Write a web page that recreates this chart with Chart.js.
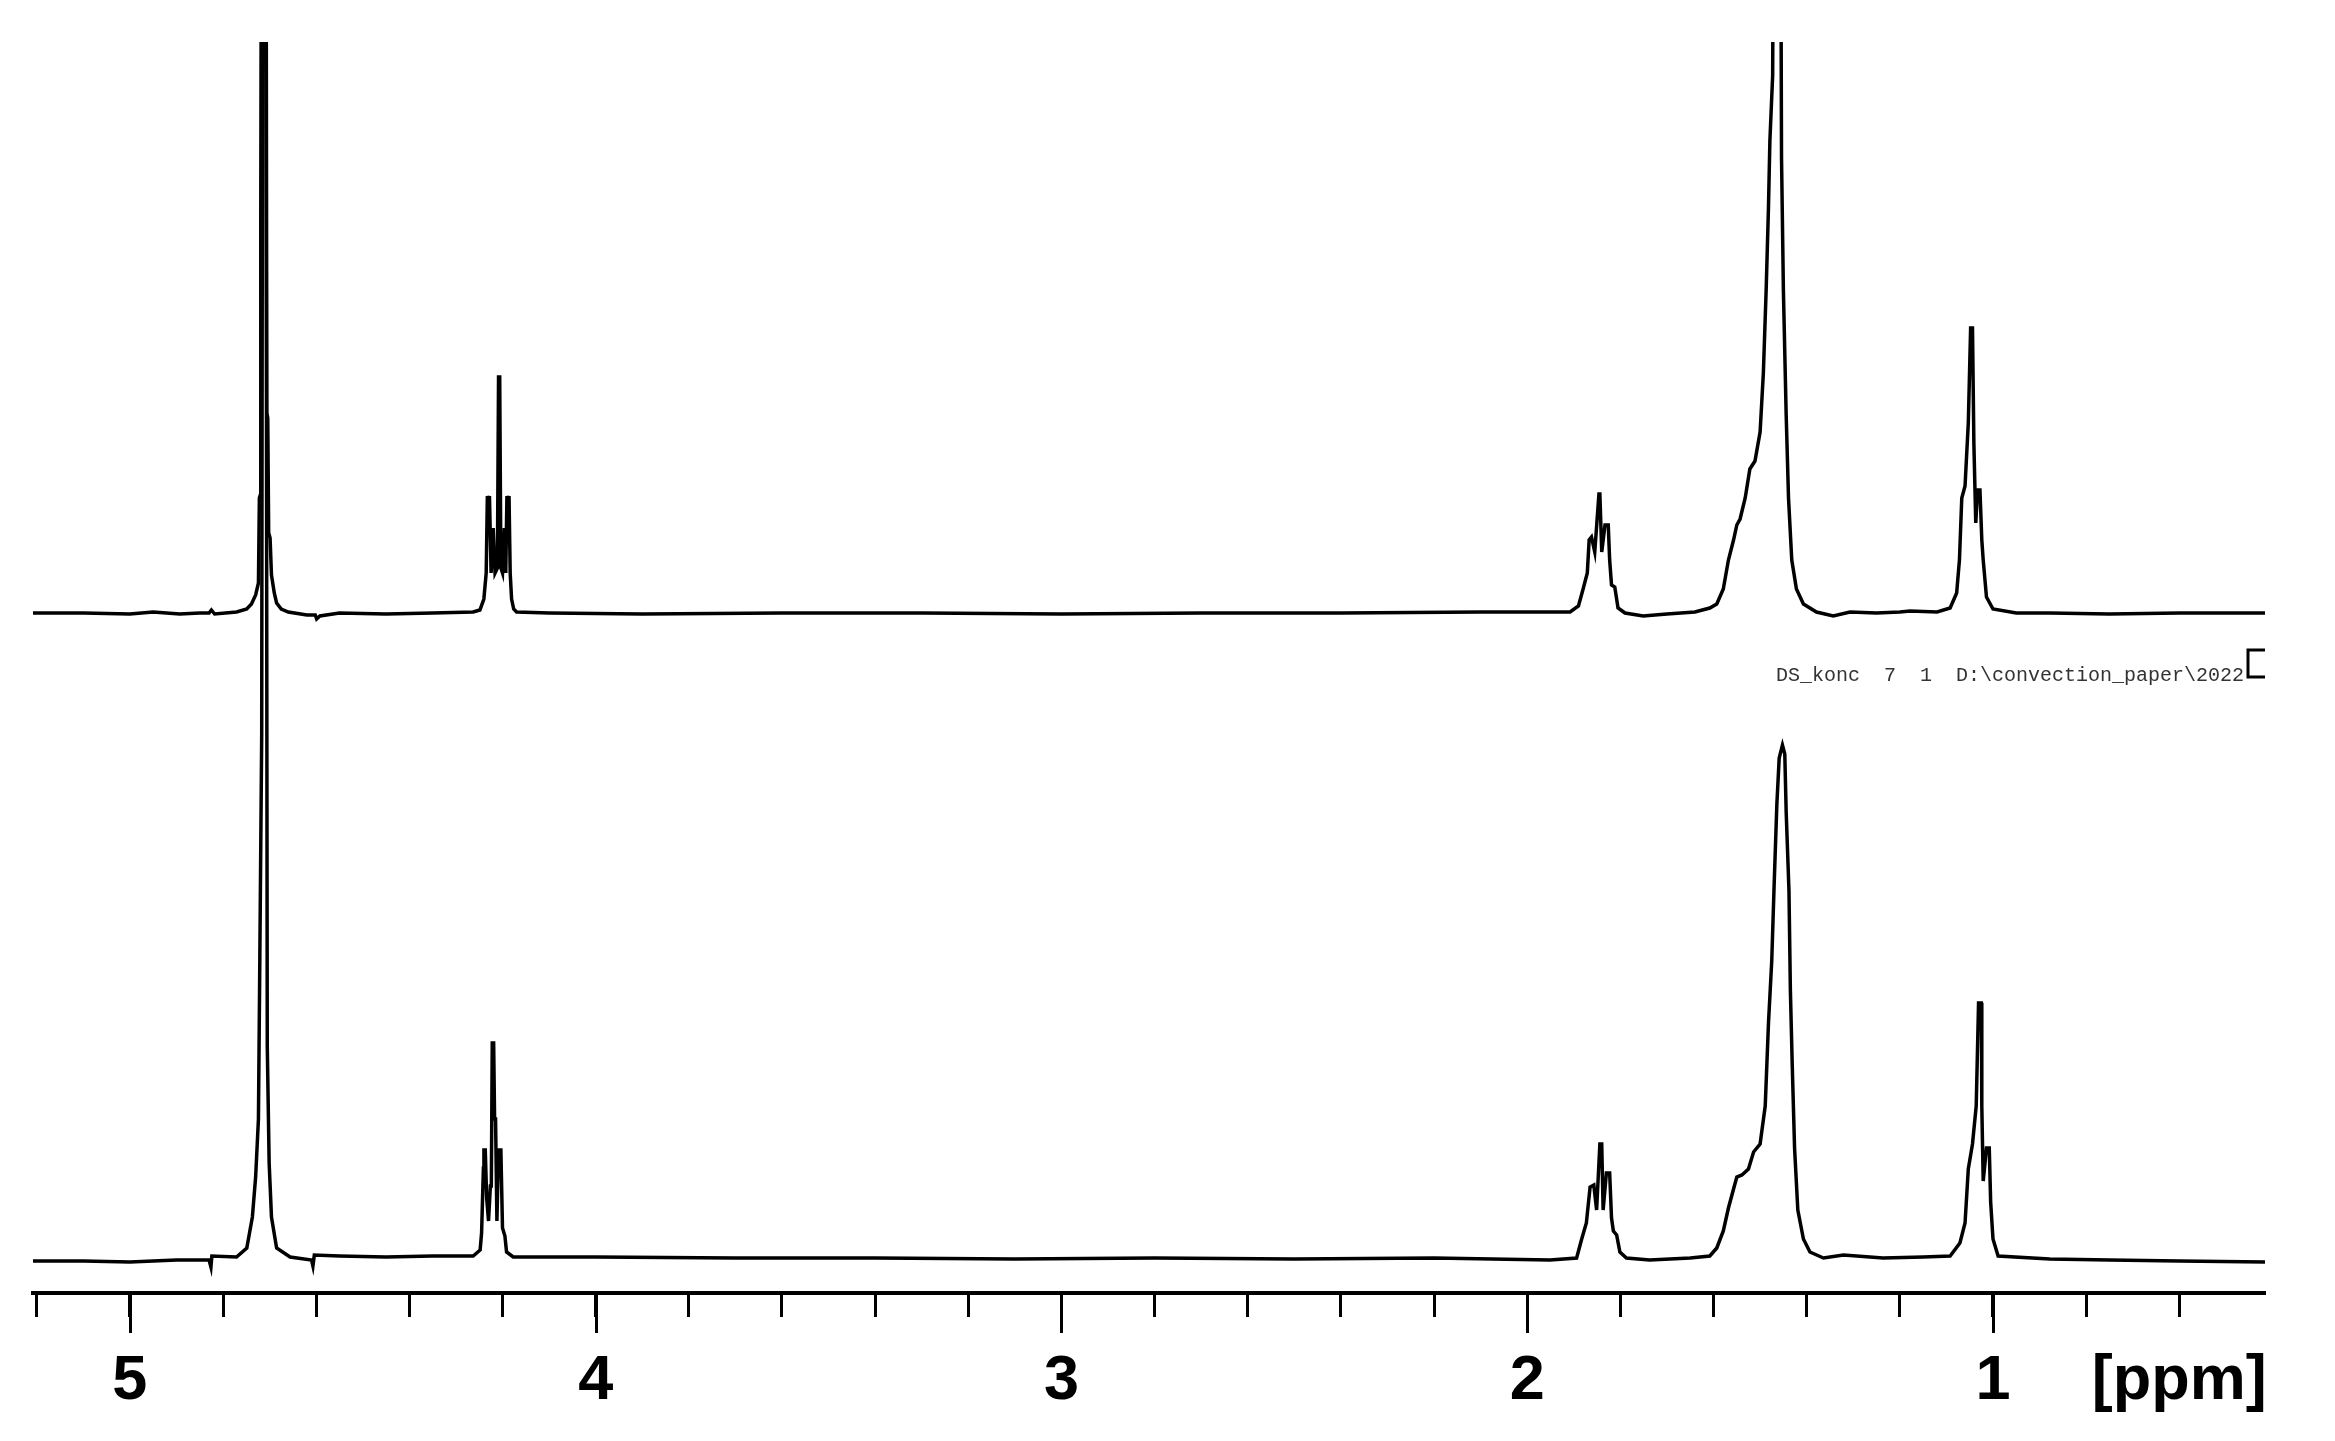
<!DOCTYPE html>
<html>
<head>
<meta charset="utf-8">
<title>1H NMR spectra</title>
<script src="https://cdn.jsdelivr.net/npm/chart.js@4.4.1/dist/chart.umd.min.js"></script>
<style>
  html, body { margin: 0; padding: 0; background: #fff; }
  canvas { display: block; }
</style>
</head>
<body>
<canvas id="chart" width="2335" height="1441"></canvas>
<script>
// ==============================
// DATA
// ppm positions + intensity above each trace's own baseline (a.u.)
// ==============================
const topPpm = [
  5.208, 5.10, 5.00, 4.95, 4.893, 4.850, 4.830, 4.825, 4.818, 4.771, 4.749, 4.739, 4.730, 4.724,
  4.722, 4.720, 4.719, 4.717, 4.708, 4.706, 4.704, 4.702, 4.699, 4.696, 4.690, 4.685, 4.675, 4.660,
  4.620, 4.602, 4.599, 4.592, 4.550, 4.450, 4.350, 4.263,
  4.2485, 4.2400, 4.2350, 4.2325, 4.2300, 4.2280, 4.2245, 4.2200, 4.2160, 4.2110, 4.2085, 4.2060,
  4.2035, 4.2000, 4.1960, 4.1930, 4.1905, 4.1880, 4.1860, 4.1835, 4.1805, 4.1760, 4.1698,
  4.10, 3.90, 3.60, 3.30, 3.00, 2.70, 2.40, 2.10,
  1.951, 1.908, 1.890, 1.880, 1.871, 1.867, 1.862, 1.855, 1.846, 1.844, 1.840, 1.833, 1.826, 1.823,
  1.819, 1.812, 1.805, 1.790, 1.751, 1.700, 1.640,
  1.608, 1.593, 1.579, 1.568, 1.557, 1.550, 1.543, 1.532, 1.522, 1.511, 1.500, 1.493, 1.487, 1.482,
  1.479, 1.473, 1.470, 1.457, 1.454, 1.450, 1.444, 1.439, 1.432, 1.422, 1.407, 1.379, 1.343, 1.307,
  1.250, 1.200, 1.178, 1.120,
  1.092, 1.078, 1.072, 1.067, 1.060, 1.053, 1.048, 1.044, 1.041, 1.037, 1.033, 1.028, 1.024, 1.021,
  1.014, 1.000, 0.950, 0.878, 0.750, 0.600, 0.416
];
const topInt = [
  0, 0, -1, 1, -1, 0, 0, 3, -1, 1, 4, 9, 18, 30,
  115, 118, 395, 900, 900, 200, 195, 80, 75, 38, 20, 10, 4, 1,
  -2, -2, -6, -3, 0, -1, 0, 1,
  3, 14, 40, 117, 110, 117, 40, 85, 40, 45, 236, 236,
  45, 40, 85, 40, 117, 110, 117, 40, 14, 4, 1,
  0, -1, 0, 0, -1, 0, 0, 1,
  1, 1, 7, 24, 40, 73, 76, 61, 119, 119, 61, 88, 88, 53,
  28, 26, 5, 0, -3, -1, 1,
  5, 9, 24, 53, 73, 88, 94, 115, 144, 152, 181, 240, 323, 406,
  472, 538, 900, 900, 455, 323, 198, 115, 53, 24, 9, 1, -3, 1,
  0, 1, 2, 1,
  5, 20, 53, 115, 127, 190, 285, 285, 169, 90, 123, 123, 73, 53,
  16, 4, 0, 0, -1, 0, 0
];

const bottomPpm = [
  5.208, 5.10, 5.00, 4.90, 4.830, 4.826, 4.824, 4.771, 4.749, 4.737, 4.730, 4.724, 4.721, 4.717,
  4.715, 4.708, 4.705, 4.701, 4.696, 4.685, 4.656, 4.610, 4.607, 4.604, 4.550, 4.450, 4.350, 4.2629,
  4.2480, 4.2449, 4.2410, 4.2399, 4.2370, 4.2340, 4.2300, 4.2260, 4.2240, 4.2220, 4.2190, 4.2170,
  4.2149, 4.2120, 4.2085, 4.2035, 4.2000, 4.1948, 4.1913, 4.1770,
  4.00, 3.70, 3.40, 3.10, 2.80, 2.50, 2.20,
  1.951, 1.894, 1.883, 1.873, 1.865, 1.857, 1.851, 1.844, 1.840, 1.837, 1.830, 1.823, 1.819, 1.815,
  1.808, 1.801, 1.787, 1.737, 1.650,
  1.608, 1.593, 1.579, 1.568, 1.557, 1.550, 1.539, 1.525, 1.514, 1.500, 1.489, 1.482, 1.475, 1.470,
  1.464, 1.459, 1.452, 1.447, 1.444, 1.438, 1.435, 1.431, 1.426, 1.419, 1.407, 1.393, 1.364, 1.321,
  1.236, 1.150,
  1.092, 1.071, 1.060, 1.053, 1.044, 1.036, 1.031, 1.025, 1.024, 1.021, 1.014, 1.008, 1.005, 1.000,
  0.989, 0.878, 0.750, 0.600, 0.416
];
const bottomInt = [
  -3, -3, -4, -2, -2, -9, 2, 1, 10, 41, 81, 139, 300, 523,
  1300, 1300, 211, 95, 41, 10, 1, -2, -8, 3, 2, 1, 2, 2,
  8, 25, 90, 108, 108, 60, 37, 72, 72, 215, 215, 139,
  139, 37, 108, 108, 30, 22, 6, 1,
  1, 0, 0, -1, 0, -1, 0,
  -2, 0, 19, 35, 71, 73, 48, 114, 114, 48, 85, 85, 40, 27,
  23, 6, 0, -2, 0,
  2, 10, 27, 50, 69, 81, 83, 89, 106, 114, 152, 235, 297, 371,
  454, 500, 513, 504, 446, 367, 268, 193, 110, 48, 19, 6, 0, 3,
  0, 1,
  2, 15, 35, 89, 114, 152, 255, 255, 152, 77, 110, 110, 56, 19,
  2, -1, -2, -3, -4
];

// axis ticks
const tickValues = [5.2, 5.0, 4.8, 4.6, 4.4, 4.2, 4.0, 3.8, 3.6, 3.4, 3.2, 3.0, 2.8, 2.6, 2.4,
  2.2, 2.0, 1.8, 1.6, 1.4, 1.2, 1.0, 0.8, 0.6];
const majorTicks = [5, 4, 3, 2, 1];
const unitTick = 0.6;
const unitLabel = "[ppm]";
const ppmRange = [0.416, 5.208];

const footerText = "DS_konc  7  1  D:\\convection_paper\\2022";

// ==============================
// HELPERS
// ==============================
function toPoints(xs, ys) {
  return xs.map((x, i) => ({ x: x, y: ys[i] }));
}

function isMajor(v) {
  return majorTicks.some(m => Math.abs(m - v) < 1e-6);
}

// ==============================
// DECORATION PLUGIN (long major ticks, file label)
// ==============================
const spectrumExtras = {
  id: "spectrumExtras",
  afterDraw(chart) {
    const ctx = chart.ctx;
    const xs = chart.scales.x;
    const top = xs.top;

    ctx.save();
    ctx.strokeStyle = "#000";
    ctx.lineWidth = 3;
    majorTicks.forEach(v => {
      const px = Math.round(xs.getPixelForValue(v)) + 0.5;
      ctx.beginPath();
      ctx.moveTo(px, top);
      ctx.lineTo(px, top + 40);
      ctx.stroke();
    });

    // acquisition label between the traces
    ctx.fillStyle = "#333";
    ctx.font = "20px 'Liberation Mono', 'DejaVu Sans Mono', monospace";
    ctx.textAlign = "right";
    ctx.textBaseline = "alphabetic";
    ctx.fillText(footerText, 2244, 681);

    // small bracket mark
    ctx.strokeStyle = "#000";
    ctx.lineWidth = 3;
    ctx.beginPath();
    ctx.moveTo(2265, 650);
    ctx.lineTo(2248, 650);
    ctx.lineTo(2248, 677);
    ctx.lineTo(2265, 677);
    ctx.stroke();
    ctx.restore();
  }
};

// ==============================
// RENDER CHART
// ==============================
function renderChart() {
  const ctx = document.getElementById("chart");
  if (!ctx) return;

  new Chart(ctx, {
    type: "line",
    data: {
      datasets: [
        {
          label: "top",
          data: toPoints(topPpm, topInt),
          yAxisID: "yTop",
          borderColor: "#000",
          borderWidth: 3.5,
          pointRadius: 0,
          tension: 0,
          fill: false
        },
        {
          label: "bottom",
          data: toPoints(bottomPpm, bottomInt),
          yAxisID: "yBot",
          borderColor: "#000",
          borderWidth: 3.5,
          pointRadius: 0,
          tension: 0,
          fill: false
        }
      ]
    },
    options: {
      responsive: false,
      animation: false,
      devicePixelRatio: 1,
      layout: { padding: { left: 33, right: 70, top: 42, bottom: 0 } },
      plugins: {
        legend: { display: false },
        tooltip: { enabled: false },
        title: { display: false }
      },
      scales: {
        x: {
          type: "linear",
          reverse: true,
          min: ppmRange[0],
          max: ppmRange[1],
          afterBuildTicks: scale => {
            scale.ticks = tickValues.map(v => ({ value: v }));
          },
          afterFit: scale => { scale.height = 148; },
          border: { display: true, color: "#000", width: 4 },
          grid: {
            drawOnChartArea: false,
            drawTicks: true,
            tickLength: 24,
            tickWidth: 3,
            tickColor: "#000"
          },
          ticks: {
            autoSkip: false,
            maxRotation: 0,
            padding: 27,
            color: "#000",
            font: { family: "'Liberation Sans', Arial, sans-serif", size: 63, weight: "bold" },
            callback: v => {
              if (Math.abs(v - unitTick) < 1e-6) return unitLabel;
              return isMajor(v) ? String(Math.round(v)) : "";
            }
          }
        },
        // each trace gets its own hidden axis so the baselines sit apart
        yTop: { type: "linear", display: false, min: -680, max: 571 },
        yBot: { type: "linear", display: false, min: -35, max: 1216 }
      }
    },
    plugins: [spectrumExtras]
  });
}

renderChart();
</script>
</body>
</html>
